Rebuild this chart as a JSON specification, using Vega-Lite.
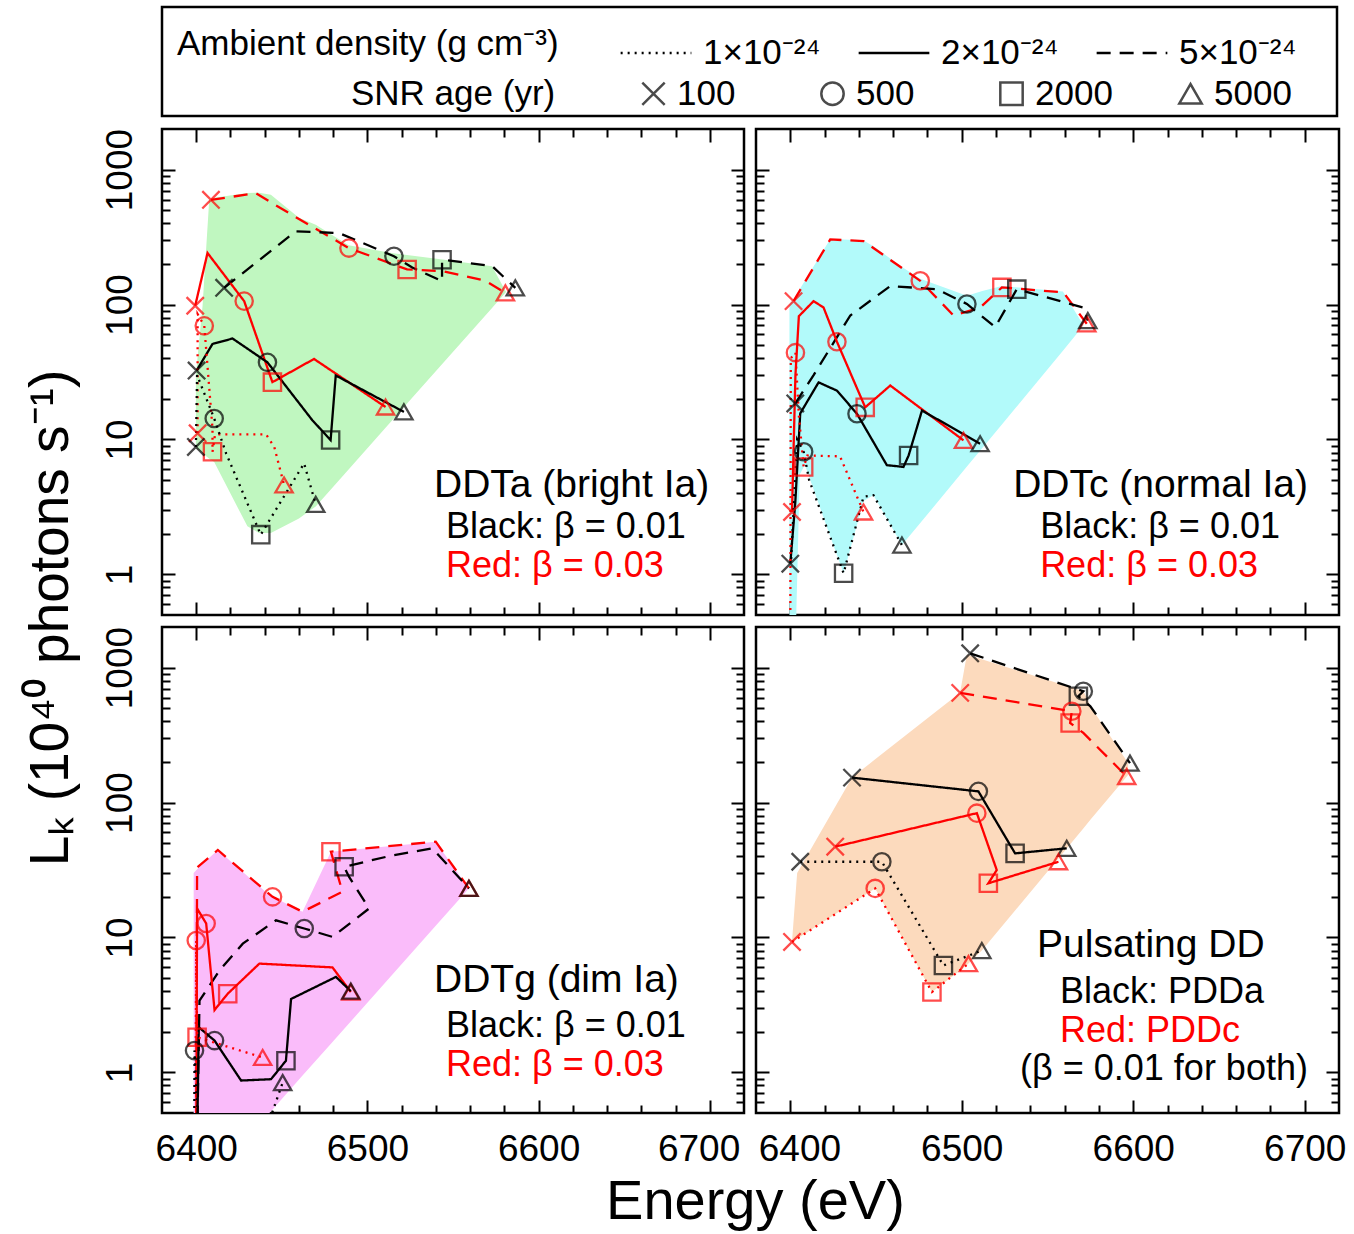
{
"$schema": "https://vega.github.io/schema/vega-lite/v6.json",
"background": "white",
"padding": {"left": 23, "top": 5, "right": 6, "bottom": 4},
"title": {"text": "Lₖ (10⁴⁰ photons s⁻¹)", "orient": "left", "anchor": "middle", "fontSize": 55, "fontWeight": "normal", "font": "Liberation Sans", "color": "#000", "offset": 20, "dx": 0, "frame": "bounds"},
"config": {
  "view": {"stroke": "#000", "strokeWidth": 2.5},
  "font": "Liberation Sans",
  "axis": {"domain": false, "grid": false, "tickColor": "#000", "tickWidth": 2, "labelColor": "#000", "labelFont": "Liberation Sans", "labelFontSize": 37, "labelFlush": false},
  "legend": {"orient": "none", "direction": "horizontal", "titleOrient": "left", "titleFontSize": 35, "titleFontWeight": "normal", "titleFont": "Liberation Sans", "titleColor": "#000", "labelFontSize": 35, "labelFont": "Liberation Sans", "labelColor": "#000", "symbolStrokeColor": "#000", "symbolStrokeWidth": 2.5, "gridAlign": "all", "labelOffset": 10, "padding": 0, "titleLimit": 1000, "labelLimit": 400}
},
"datasets": {
"lines": [
{"p":"DDTa","m":"β = 0.03","d":"5×10⁻²⁴","i":1,"E":6408.6,"L":597,"a":"100"},
{"p":"DDTa","m":"β = 0.03","d":"5×10⁻²⁴","i":2,"E":6434.8,"L":668},
{"p":"DDTa","m":"β = 0.03","d":"5×10⁻²⁴","i":3,"E":6460,"L":430},
{"p":"DDTa","m":"β = 0.03","d":"5×10⁻²⁴","i":4,"E":6489.2,"L":262,"a":"500"},
{"p":"DDTa","m":"β = 0.03","d":"5×10⁻²⁴","i":5,"E":6523.2,"L":182,"a":"2000"},
{"p":"DDTa","m":"β = 0.03","d":"5×10⁻²⁴","i":6,"E":6543.7,"L":177},
{"p":"DDTa","m":"β = 0.03","d":"5×10⁻²⁴","i":7,"E":6569,"L":150},
{"p":"DDTa","m":"β = 0.03","d":"5×10⁻²⁴","i":8,"E":6580.6,"L":122,"a":"5000"},
{"p":"DDTa","m":"β = 0.01","d":"5×10⁻²⁴","i":1,"E":6416.3,"L":133,"a":"100"},
{"p":"DDTa","m":"β = 0.01","d":"5×10⁻²⁴","i":2,"E":6458.1,"L":349},
{"p":"DDTa","m":"β = 0.01","d":"5×10⁻²⁴","i":3,"E":6483.4,"L":339},
{"p":"DDTa","m":"β = 0.01","d":"5×10⁻²⁴","i":4,"E":6515.5,"L":228,"a":"500"},
{"p":"DDTa","m":"β = 0.01","d":"5×10⁻²⁴","i":5,"E":6526.2,"L":188},
{"p":"DDTa","m":"β = 0.01","d":"5×10⁻²⁴","i":6,"E":6543.6,"L":149},
{"p":"DDTa","m":"β = 0.01","d":"5×10⁻²⁴","i":7,"E":6543.6,"L":215,"a":"2000"},
{"p":"DDTa","m":"β = 0.01","d":"5×10⁻²⁴","i":8,"E":6572.8,"L":193},
{"p":"DDTa","m":"β = 0.01","d":"5×10⁻²⁴","i":9,"E":6586.4,"L":133,"a":"5000"},
{"p":"DDTa","m":"β = 0.03","d":"2×10⁻²⁴","i":1,"E":6399.4,"L":98,"a":"100"},
{"p":"DDTa","m":"β = 0.03","d":"2×10⁻²⁴","i":2,"E":6406.6,"L":241},
{"p":"DDTa","m":"β = 0.03","d":"2×10⁻²⁴","i":3,"E":6428,"L":106,"a":"500"},
{"p":"DDTa","m":"β = 0.03","d":"2×10⁻²⁴","i":4,"E":6444.5,"L":26.6,"a":"2000"},
{"p":"DDTa","m":"β = 0.03","d":"2×10⁻²⁴","i":5,"E":6468.8,"L":39.5},
{"p":"DDTa","m":"β = 0.03","d":"2×10⁻²⁴","i":6,"E":6510.6,"L":17.4,"a":"5000"},
{"p":"DDTa","m":"β = 0.01","d":"2×10⁻²⁴","i":1,"E":6400.2,"L":32.4,"a":"100"},
{"p":"DDTa","m":"β = 0.01","d":"2×10⁻²⁴","i":2,"E":6409.5,"L":51},
{"p":"DDTa","m":"β = 0.01","d":"2×10⁻²⁴","i":3,"E":6421.2,"L":56},
{"p":"DDTa","m":"β = 0.01","d":"2×10⁻²⁴","i":4,"E":6441.6,"L":37.3,"a":"500"},
{"p":"DDTa","m":"β = 0.01","d":"2×10⁻²⁴","i":5,"E":6467.8,"L":13.9},
{"p":"DDTa","m":"β = 0.01","d":"2×10⁻²⁴","i":6,"E":6478.5,"L":9.9,"a":"2000"},
{"p":"DDTa","m":"β = 0.01","d":"2×10⁻²⁴","i":7,"E":6481.5,"L":29.8},
{"p":"DDTa","m":"β = 0.01","d":"2×10⁻²⁴","i":8,"E":6521.3,"L":16.0,"a":"5000"},
{"p":"DDTa","m":"β = 0.03","d":"1×10⁻²⁴","i":1,"E":6400.8,"L":11.1,"a":"100"},
{"p":"DDTa","m":"β = 0.03","d":"1×10⁻²⁴","i":2,"E":6400.8,"L":85},
{"p":"DDTa","m":"β = 0.03","d":"1×10⁻²⁴","i":3,"E":6404.7,"L":69.5,"a":"500"},
{"p":"DDTa","m":"β = 0.03","d":"1×10⁻²⁴","i":4,"E":6409.5,"L":12},
{"p":"DDTa","m":"β = 0.03","d":"1×10⁻²⁴","i":5,"E":6409.5,"L":8.1,"a":"2000"},
{"p":"DDTa","m":"β = 0.03","d":"1×10⁻²⁴","i":6,"E":6411,"L":10.9},
{"p":"DDTa","m":"β = 0.03","d":"1×10⁻²⁴","i":7,"E":6440.8,"L":10.9},
{"p":"DDTa","m":"β = 0.03","d":"1×10⁻²⁴","i":8,"E":6445.6,"L":8.8},
{"p":"DDTa","m":"β = 0.03","d":"1×10⁻²⁴","i":9,"E":6451.3,"L":4.6,"a":"5000"},
{"p":"DDTa","m":"β = 0.01","d":"1×10⁻²⁴","i":1,"E":6399.8,"L":8.8,"a":"100"},
{"p":"DDTa","m":"β = 0.01","d":"1×10⁻²⁴","i":2,"E":6400.5,"L":30},
{"p":"DDTa","m":"β = 0.01","d":"1×10⁻²⁴","i":3,"E":6410.5,"L":14.3,"a":"500"},
{"p":"DDTa","m":"β = 0.01","d":"1×10⁻²⁴","i":4,"E":6417.5,"L":7.85},
{"p":"DDTa","m":"β = 0.01","d":"1×10⁻²⁴","i":5,"E":6437.7,"L":1.97,"a":"2000"},
{"p":"DDTa","m":"β = 0.01","d":"1×10⁻²⁴","i":6,"E":6463,"L":6.65},
{"p":"DDTa","m":"β = 0.01","d":"1×10⁻²⁴","i":7,"E":6469.8,"L":3.3,"a":"5000"},

{"p":"DDTc","m":"β = 0.03","d":"5×10⁻²⁴","i":1,"E":6401.9,"L":106,"a":"100"},
{"p":"DDTc","m":"β = 0.03","d":"5×10⁻²⁴","i":2,"E":6423.3,"L":304},
{"p":"DDTc","m":"β = 0.03","d":"5×10⁻²⁴","i":3,"E":6442.7,"L":295},
{"p":"DDTc","m":"β = 0.03","d":"5×10⁻²⁴","i":4,"E":6475.8,"L":150,"a":"500"},
{"p":"DDTc","m":"β = 0.03","d":"5×10⁻²⁴","i":5,"E":6495.2,"L":83},
{"p":"DDTc","m":"β = 0.03","d":"5×10⁻²⁴","i":6,"E":6510.7,"L":95},
{"p":"DDTc","m":"β = 0.03","d":"5×10⁻²⁴","i":7,"E":6523.4,"L":134,"a":"2000"},
{"p":"DDTc","m":"β = 0.03","d":"5×10⁻²⁴","i":8,"E":6559.3,"L":123},
{"p":"DDTc","m":"β = 0.03","d":"5×10⁻²⁴","i":9,"E":6572.9,"L":72,"a":"5000"},
{"p":"DDTc","m":"β = 0.01","d":"5×10⁻²⁴","i":1,"E":6402.9,"L":18.5,"a":"100"},
{"p":"DDTc","m":"β = 0.01","d":"5×10⁻²⁴","i":2,"E":6413.6,"L":30},
{"p":"DDTc","m":"β = 0.01","d":"5×10⁻²⁴","i":3,"E":6435,"L":83},
{"p":"DDTc","m":"β = 0.01","d":"5×10⁻²⁴","i":4,"E":6458.3,"L":137},
{"p":"DDTc","m":"β = 0.01","d":"5×10⁻²⁴","i":5,"E":6485.5,"L":130},
{"p":"DDTc","m":"β = 0.01","d":"5×10⁻²⁴","i":6,"E":6503,"L":101,"a":"500"},
{"p":"DDTc","m":"β = 0.01","d":"5×10⁻²⁴","i":7,"E":6519.5,"L":68},
{"p":"DDTc","m":"β = 0.01","d":"5×10⁻²⁴","i":8,"E":6532.1,"L":130,"a":"2000"},
{"p":"DDTc","m":"β = 0.01","d":"5×10⁻²⁴","i":9,"E":6570.9,"L":95},
{"p":"DDTc","m":"β = 0.01","d":"5×10⁻²⁴","i":10,"E":6573.5,"L":76,"a":"5000"},
{"p":"DDTc","m":"β = 0.03","d":"2×10⁻²⁴","i":1,"E":6401,"L":2.9,"a":"100"},
{"p":"DDTc","m":"β = 0.03","d":"2×10⁻²⁴","i":2,"E":6403,"L":30},
{"p":"DDTc","m":"β = 0.03","d":"2×10⁻²⁴","i":3,"E":6405,"L":82},
{"p":"DDTc","m":"β = 0.03","d":"2×10⁻²⁴","i":4,"E":6413.6,"L":106},
{"p":"DDTc","m":"β = 0.03","d":"2×10⁻²⁴","i":5,"E":6419.4,"L":95},
{"p":"DDTc","m":"β = 0.03","d":"2×10⁻²⁴","i":6,"E":6427.2,"L":53,"a":"500"},
{"p":"DDTc","m":"β = 0.03","d":"2×10⁻²⁴","i":7,"E":6443.7,"L":17.3,"a":"2000"},
{"p":"DDTc","m":"β = 0.03","d":"2×10⁻²⁴","i":8,"E":6458.3,"L":25.1},
{"p":"DDTc","m":"β = 0.03","d":"2×10⁻²⁴","i":9,"E":6501,"L":9.85,"a":"5000"},
{"p":"DDTc","m":"β = 0.01","d":"2×10⁻²⁴","i":1,"E":6400,"L":1.2,"a":"100"},
{"p":"DDTc","m":"β = 0.01","d":"2×10⁻²⁴","i":2,"E":6402.9,"L":3.4},
{"p":"DDTc","m":"β = 0.01","d":"2×10⁻²⁴","i":3,"E":6405.8,"L":15.6},
{"p":"DDTc","m":"β = 0.01","d":"2×10⁻²⁴","i":4,"E":6416.5,"L":26.5},
{"p":"DDTc","m":"β = 0.01","d":"2×10⁻²⁴","i":5,"E":6427.2,"L":23},
{"p":"DDTc","m":"β = 0.01","d":"2×10⁻²⁴","i":6,"E":6438.9,"L":15.5,"a":"500"},
{"p":"DDTc","m":"β = 0.01","d":"2×10⁻²⁴","i":7,"E":6456.3,"L":6.45},
{"p":"DDTc","m":"β = 0.01","d":"2×10⁻²⁴","i":8,"E":6466,"L":6.26},
{"p":"DDTc","m":"β = 0.01","d":"2×10⁻²⁴","i":9,"E":6469,"L":7.6,"a":"2000"},
{"p":"DDTc","m":"β = 0.01","d":"2×10⁻²⁴","i":10,"E":6476.8,"L":16.4},
{"p":"DDTc","m":"β = 0.01","d":"2×10⁻²⁴","i":11,"E":6510.7,"L":9.3,"a":"5000"},
{"p":"DDTc","m":"β = 0.03","d":"1×10⁻²⁴","i":1,"E":6400,"L":0.3},
{"p":"DDTc","m":"β = 0.03","d":"1×10⁻²⁴","i":2,"E":6400.3,"L":40},
{"p":"DDTc","m":"β = 0.03","d":"1×10⁻²⁴","i":3,"E":6403,"L":44,"a":"500"},
{"p":"DDTc","m":"β = 0.03","d":"1×10⁻²⁴","i":4,"E":6405,"L":15},
{"p":"DDTc","m":"β = 0.03","d":"1×10⁻²⁴","i":5,"E":6407.8,"L":6.25,"a":"2000"},
{"p":"DDTc","m":"β = 0.03","d":"1×10⁻²⁴","i":6,"E":6410,"L":7.6},
{"p":"DDTc","m":"β = 0.03","d":"1×10⁻²⁴","i":7,"E":6429,"L":7.5},
{"p":"DDTc","m":"β = 0.03","d":"1×10⁻²⁴","i":8,"E":6442.7,"L":2.9,"a":"5000"},
{"p":"DDTc","m":"β = 0.01","d":"1×10⁻²⁴","i":1,"E":6400.5,"L":1.3},
{"p":"DDTc","m":"β = 0.01","d":"1×10⁻²⁴","i":2,"E":6404,"L":10},
{"p":"DDTc","m":"β = 0.01","d":"1×10⁻²⁴","i":3,"E":6407.8,"L":8.1,"a":"500"},
{"p":"DDTc","m":"β = 0.01","d":"1×10⁻²⁴","i":4,"E":6411,"L":5},
{"p":"DDTc","m":"β = 0.01","d":"1×10⁻²⁴","i":5,"E":6431.1,"L":1.02,"a":"2000"},
{"p":"DDTc","m":"β = 0.01","d":"1×10⁻²⁴","i":6,"E":6442.7,"L":3.76},
{"p":"DDTc","m":"β = 0.01","d":"1×10⁻²⁴","i":7,"E":6448.5,"L":3.86},
{"p":"DDTc","m":"β = 0.01","d":"1×10⁻²⁴","i":8,"E":6465.1,"L":1.65,"a":"5000"},

{"p":"DDTg","m":"β = 0.03","d":"5×10⁻²⁴","i":1,"E":6400,"L":0.3},
{"p":"DDTg","m":"β = 0.03","d":"5×10⁻²⁴","i":2,"E":6400.5,"L":33},
{"p":"DDTg","m":"β = 0.03","d":"5×10⁻²⁴","i":3,"E":6412.6,"L":44.5},
{"p":"DDTg","m":"β = 0.03","d":"5×10⁻²⁴","i":4,"E":6444.6,"L":20,"a":"500"},
{"p":"DDTg","m":"β = 0.03","d":"5×10⁻²⁴","i":5,"E":6462.1,"L":15.5},
{"p":"DDTg","m":"β = 0.03","d":"5×10⁻²⁴","i":6,"E":6485.4,"L":21.8},
{"p":"DDTg","m":"β = 0.03","d":"5×10⁻²⁴","i":7,"E":6478.7,"L":43.2,"a":"2000"},
{"p":"DDTg","m":"β = 0.03","d":"5×10⁻²⁴","i":8,"E":6539.9,"L":51.3},
{"p":"DDTg","m":"β = 0.03","d":"5×10⁻²⁴","i":9,"E":6559.3,"L":23.1,"a":"5000"},
{"p":"DDTg","m":"β = 0.01","d":"5×10⁻²⁴","i":1,"E":6400.5,"L":0.3},
{"p":"DDTg","m":"β = 0.01","d":"5×10⁻²⁴","i":2,"E":6401.9,"L":3.4},
{"p":"DDTg","m":"β = 0.01","d":"5×10⁻²⁴","i":3,"E":6413.6,"L":5.7},
{"p":"DDTg","m":"β = 0.01","d":"5×10⁻²⁴","i":4,"E":6427.2,"L":9},
{"p":"DDTg","m":"β = 0.01","d":"5×10⁻²⁴","i":5,"E":6446.6,"L":13.4},
{"p":"DDTg","m":"β = 0.01","d":"5×10⁻²⁴","i":6,"E":6463.1,"L":11.65,"a":"500"},
{"p":"DDTg","m":"β = 0.01","d":"5×10⁻²⁴","i":7,"E":6479.6,"L":10.1},
{"p":"DDTg","m":"β = 0.01","d":"5×10⁻²⁴","i":8,"E":6501,"L":16.4},
{"p":"DDTg","m":"β = 0.01","d":"5×10⁻²⁴","i":9,"E":6489.3,"L":28.1},
{"p":"DDTg","m":"β = 0.01","d":"5×10⁻²⁴","i":10,"E":6486.4,"L":33.4,"a":"2000"},
{"p":"DDTg","m":"β = 0.01","d":"5×10⁻²⁴","i":11,"E":6514.6,"L":40.6},
{"p":"DDTg","m":"β = 0.01","d":"5×10⁻²⁴","i":12,"E":6537.9,"L":45.8},
{"p":"DDTg","m":"β = 0.01","d":"5×10⁻²⁴","i":13,"E":6559.3,"L":23.1,"a":"5000"},
{"p":"DDTg","m":"β = 0.03","d":"2×10⁻²⁴","i":1,"E":6400,"L":0.3},
{"p":"DDTg","m":"β = 0.03","d":"2×10⁻²⁴","i":2,"E":6400.5,"L":16.4},
{"p":"DDTg","m":"β = 0.03","d":"2×10⁻²⁴","i":3,"E":6405.8,"L":12.7,"a":"500"},
{"p":"DDTg","m":"β = 0.03","d":"2×10⁻²⁴","i":4,"E":6410.7,"L":2.9},
{"p":"DDTg","m":"β = 0.03","d":"2×10⁻²⁴","i":5,"E":6418.4,"L":3.83,"a":"2000"},
{"p":"DDTg","m":"β = 0.03","d":"2×10⁻²⁴","i":6,"E":6436.9,"L":6.4},
{"p":"DDTg","m":"β = 0.03","d":"2×10⁻²⁴","i":7,"E":6479.6,"L":6.0},
{"p":"DDTg","m":"β = 0.03","d":"2×10⁻²⁴","i":8,"E":6490.3,"L":3.94,"a":"5000"},
{"p":"DDTg","m":"β = 0.01","d":"2×10⁻²⁴","i":1,"E":6400.5,"L":0.3},
{"p":"DDTg","m":"β = 0.01","d":"2×10⁻²⁴","i":2,"E":6401.5,"L":2.16},
{"p":"DDTg","m":"β = 0.01","d":"2×10⁻²⁴","i":3,"E":6410.7,"L":1.72,"a":"500"},
{"p":"DDTg","m":"β = 0.01","d":"2×10⁻²⁴","i":4,"E":6426.2,"L":0.87},
{"p":"DDTg","m":"β = 0.01","d":"2×10⁻²⁴","i":5,"E":6443.7,"L":0.89},
{"p":"DDTg","m":"β = 0.01","d":"2×10⁻²⁴","i":6,"E":6452.4,"L":1.22,"a":"2000"},
{"p":"DDTg","m":"β = 0.01","d":"2×10⁻²⁴","i":7,"E":6455.4,"L":3.5},
{"p":"DDTg","m":"β = 0.01","d":"2×10⁻²⁴","i":8,"E":6481.6,"L":5.1},
{"p":"DDTg","m":"β = 0.01","d":"2×10⁻²⁴","i":9,"E":6490.3,"L":4.0,"a":"5000"},
{"p":"DDTg","m":"β = 0.03","d":"1×10⁻²⁴","i":1,"E":6399.5,"L":0.3},
{"p":"DDTg","m":"β = 0.03","d":"1×10⁻²⁴","i":2,"E":6400,"L":9.5,"a":"500"},
{"p":"DDTg","m":"β = 0.03","d":"1×10⁻²⁴","i":3,"E":6400.5,"L":1.82,"a":"2000"},
{"p":"DDTg","m":"β = 0.03","d":"1×10⁻²⁴","i":4,"E":6438.8,"L":1.29,"a":"5000"},
{"p":"DDTg","m":"β = 0.01","d":"1×10⁻²⁴","i":1,"E":6398.8,"L":0.3},
{"p":"DDTg","m":"β = 0.01","d":"1×10⁻²⁴","i":2,"E":6399,"L":1.45,"a":"500"},
{"p":"DDTg","m":"β = 0.01","d":"1×10⁻²⁴","i":3,"E":6401,"L":0.45},
{"p":"DDTg","m":"β = 0.01","d":"1×10⁻²⁴","i":4,"E":6440,"L":0.35},
{"p":"DDTg","m":"β = 0.01","d":"1×10⁻²⁴","i":5,"E":6450.5,"L":0.84,"a":"5000"},

{"p":"PDD","m":"PDDa","d":"5×10⁻²⁴","i":1,"E":6504.9,"L":1276,"a":"100"},
{"p":"PDD","m":"PDDa","d":"5×10⁻²⁴","i":2,"E":6570.9,"L":668,"a":"500"},
{"p":"PDD","m":"PDDa","d":"5×10⁻²⁴","i":3,"E":6568,"L":614,"a":"2000"},
{"p":"PDD","m":"PDDa","d":"5×10⁻²⁴","i":4,"E":6575,"L":517},
{"p":"PDD","m":"PDDa","d":"5×10⁻²⁴","i":5,"E":6598.1,"L":196,"a":"5000"},
{"p":"PDD","m":"PDDc","d":"5×10⁻²⁴","i":1,"E":6499.1,"L":650,"a":"100"},
{"p":"PDD","m":"PDDc","d":"5×10⁻²⁴","i":2,"E":6564.2,"L":475,"a":"500"},
{"p":"PDD","m":"PDDc","d":"5×10⁻²⁴","i":3,"E":6563.2,"L":389,"a":"2000"},
{"p":"PDD","m":"PDDc","d":"5×10⁻²⁴","i":4,"E":6570.9,"L":328},
{"p":"PDD","m":"PDDc","d":"5×10⁻²⁴","i":5,"E":6596.2,"L":156,"a":"5000"},
{"p":"PDD","m":"PDDa","d":"2×10⁻²⁴","i":1,"E":6436,"L":153,"a":"100"},
{"p":"PDD","m":"PDDa","d":"2×10⁻²⁴","i":2,"E":6509.7,"L":121,"a":"500"},
{"p":"PDD","m":"PDDa","d":"2×10⁻²⁴","i":3,"E":6531.1,"L":42,"a":"2000"},
{"p":"PDD","m":"PDDa","d":"2×10⁻²⁴","i":4,"E":6561.2,"L":45.8,"a":"5000"},
{"p":"PDD","m":"PDDc","d":"2×10⁻²⁴","i":1,"E":6426.2,"L":47.1,"a":"100"},
{"p":"PDD","m":"PDDc","d":"2×10⁻²⁴","i":2,"E":6508.8,"L":83.4,"a":"500"},
{"p":"PDD","m":"PDDc","d":"2×10⁻²⁴","i":3,"E":6520.4,"L":31.6},
{"p":"PDD","m":"PDDc","d":"2×10⁻²⁴","i":4,"E":6515.5,"L":25.2,"a":"2000"},
{"p":"PDD","m":"PDDc","d":"2×10⁻²⁴","i":5,"E":6556.4,"L":36.4,"a":"5000"},
{"p":"PDD","m":"PDDa","d":"1×10⁻²⁴","i":1,"E":6405.8,"L":36.4,"a":"100"},
{"p":"PDD","m":"PDDa","d":"1×10⁻²⁴","i":2,"E":6453.4,"L":36.4,"a":"500"},
{"p":"PDD","m":"PDDa","d":"1×10⁻²⁴","i":3,"E":6489.3,"L":6.2,"a":"2000"},
{"p":"PDD","m":"PDDa","d":"1×10⁻²⁴","i":4,"E":6511.7,"L":8.0,"a":"5000"},
{"p":"PDD","m":"PDDc","d":"1×10⁻²⁴","i":1,"E":6401,"L":9.26,"a":"100"},
{"p":"PDD","m":"PDDc","d":"1×10⁻²⁴","i":2,"E":6449.5,"L":23.1,"a":"500"},
{"p":"PDD","m":"PDDc","d":"1×10⁻²⁴","i":3,"E":6482.6,"L":3.94,"a":"2000"},
{"p":"PDD","m":"PDDc","d":"1×10⁻²⁴","i":4,"E":6503.9,"L":6.4,"a":"5000"}
],
"regions": [
{"p":"DDTa","E":6399.8,"hi":30,"lo":8.6},
{"p":"DDTa","E":6403.7,"hi":98,"lo":7.9},
{"p":"DDTa","E":6407.6,"hi":600,"lo":7.2},
{"p":"DDTa","E":6410.5,"hi":620,"lo":6.8},
{"p":"DDTa","E":6429.9,"hi":670,"lo":2.27},
{"p":"DDTa","E":6436.7,"hi":675,"lo":2.03},
{"p":"DDTa","E":6443.6,"hi":650,"lo":2.03},
{"p":"DDTa","E":6460,"hi":440,"lo":2.6},
{"p":"DDTa","E":6469.8,"hi":390,"lo":3.19},
{"p":"DDTa","E":6489,"hi":275,"lo":6.0},
{"p":"DDTa","E":6515,"hi":240,"lo":14.1},
{"p":"DDTa","E":6545,"hi":215,"lo":37.9},
{"p":"DDTa","E":6572.8,"hi":192,"lo":94.4},
{"p":"DDTa","E":6581,"hi":124,"lo":124},
{"p":"DDTc","E":6399.5,"hi":100,"lo":0.5},
{"p":"DDTc","E":6401.9,"hi":110,"lo":0.5},
{"p":"DDTc","E":6403.5,"hi":118,"lo":0.5},
{"p":"DDTc","E":6405.5,"hi":130,"lo":5.5},
{"p":"DDTc","E":6408.5,"hi":150,"lo":6.5},
{"p":"DDTc","E":6423.3,"hi":306,"lo":1.91},
{"p":"DDTc","E":6431.1,"hi":303,"lo":1.02},
{"p":"DDTc","E":6442.7,"hi":298,"lo":3.5},
{"p":"DDTc","E":6448.5,"hi":270,"lo":3.86},
{"p":"DDTc","E":6465.1,"hi":190,"lo":1.65},
{"p":"DDTc","E":6475.8,"hi":155,"lo":2.4},
{"p":"DDTc","E":6503,"hi":116,"lo":6.3},
{"p":"DDTc","E":6512,"hi":126,"lo":8.65},
{"p":"DDTc","E":6523.4,"hi":137,"lo":12.9},
{"p":"DDTc","E":6559,"hi":125,"lo":45.5},
{"p":"DDTc","E":6571,"hi":70,"lo":70},
{"p":"DDTg","E":6398.5,"hi":30,"lo":0.5},
{"p":"DDTg","E":6401.9,"hi":33.4,"lo":0.5},
{"p":"DDTg","E":6412.6,"hi":44.5,"lo":0.5},
{"p":"DDTg","E":6442.7,"hi":20.6,"lo":0.5},
{"p":"DDTg","E":6444.6,"hi":20,"lo":0.53},
{"p":"DDTg","E":6462.1,"hi":15.5,"lo":0.95},
{"p":"DDTg","E":6478.7,"hi":43.2,"lo":1.63},
{"p":"DDTg","E":6539.9,"hi":51.3,"lo":12.2},
{"p":"DDTg","E":6559.3,"hi":23.1,"lo":23.1},
{"p":"PDD","E":6401,"hi":9.3,"lo":9.3},
{"p":"PDD","E":6404,"hi":30,"lo":9.8},
{"p":"PDD","E":6436,"hi":153,"lo":17.9},
{"p":"PDD","E":6449.5,"hi":209,"lo":23.1},
{"p":"PDD","E":6482.6,"hi":447,"lo":3.94},
{"p":"PDD","E":6499,"hi":650,"lo":5.7},
{"p":"PDD","E":6503,"hi":1250,"lo":6.25},
{"p":"PDD","E":6503.9,"hi":1240,"lo":6.4},
{"p":"PDD","E":6511.7,"hi":1153,"lo":8.0},
{"p":"PDD","E":6571,"hi":668,"lo":64.6},
{"p":"PDD","E":6575,"hi":517,"lo":74.5},
{"p":"PDD","E":6597,"hi":196,"lo":160}
],
"notes": [
{"p":"DDTa","k":"head","E":6538.9,"L":4.58,"t":"DDTa (bright Ia)","m":"β = 0.01"},
{"p":"DDTa","k":"body","E":6545.9,"L":2.24,"t":"Black: β = 0.01","m":"β = 0.01"},
{"p":"DDTa","k":"body","E":6545.9,"L":1.155,"t":"Red: β = 0.03","m":"β = 0.03"},
{"p":"DDTc","k":"head","E":6530,"L":4.58,"t":"DDTc (normal Ia)","m":"β = 0.01"},
{"p":"DDTc","k":"body","E":6545.7,"L":2.24,"t":"Black: β = 0.01","m":"β = 0.01"},
{"p":"DDTc","k":"body","E":6545.7,"L":1.155,"t":"Red: β = 0.03","m":"β = 0.03"},
{"p":"DDTg","k":"head","E":6538.9,"L":4.81,"t":"DDTg (dim Ia)","m":"β = 0.01"},
{"p":"DDTg","k":"body","E":6545.9,"L":2.22,"t":"Black: β = 0.01","m":"β = 0.01"},
{"p":"DDTg","k":"body","E":6545.9,"L":1.14,"t":"Red: β = 0.03","m":"β = 0.03"},
{"p":"PDD","k":"head","E":6543.9,"L":8.75,"t":"Pulsating DD","m":"PDDa"},
{"p":"PDD","k":"body","E":6557.3,"L":3.91,"t":"Black: PDDa","m":"PDDa"},
{"p":"PDD","k":"body","E":6557.3,"L":2.04,"t":"Red: PDDc","m":"PDDc"},
{"p":"PDD","k":"body","E":6534,"L":1.065,"t":"(β = 0.01 for both)","m":"PDDa"}
]
},
"spacing": 8,
"vconcat": [
{
 "width": 1175, "height": 109,
 "view": {"stroke": "#000", "strokeWidth": 2.5},
 "data": {"values": [{"t": ""}]},
 "mark": {"type": "text"},
 "encoding": {"text": {"field": "t"}}
},
{
"spacing": 6,
"vconcat": [
{
 "hconcat": [
 {
  "width": 582, "height": 486,
  "layer": [
   {"data": {"name": "regions"}, "transform": [{"filter": "datum.p === 'DDTa'"}],
    "mark": {"type": "area", "color": "#c0f7c0", "opacity": 1, "clip": true},
    "encoding": {
     "x": {"field": "E", "type": "quantitative", "scale": {"domain": [6380, 6720], "nice": false, "zero": false}, "axis": {"orient": "bottom", "values": [6400, 6500, 6600, 6700], "tickSize": -13, "labels": false, "title": null}},
     "y": {"field": "hi", "type": "quantitative", "scale": {"type": "log", "domain": [0.5, 2000], "nice": false}, "axis": {"orient": "left", "values": [1, 10, 100, 1000], "format": "d", "tickSize": -13, "labelAngle": -90, "labelAlign": "center", "labelBaseline": "bottom", "labelPadding": 36, "title": null}},
     "y2": {"field": "lo"}}},
   {"data": {"name": "lines"}, "transform": [{"filter": "datum.p === 'DDTa'"}],
    "mark": {"type": "line", "strokeWidth": 2.3, "clip": true},
    "encoding": {
     "x": {"field": "E", "type": "quantitative", "axis": {"orient": "bottom", "values": [6420,6440,6460,6480,6520,6540,6560,6580,6620,6640,6660,6680], "tickSize": -8, "labels": false, "title": null}},
     "y": {"field": "L", "type": "quantitative", "axis": {"orient": "left", "values": [0.6,0.7,0.8,0.9,2,3,4,5,6,7,8,9,20,30,40,50,60,70,80,90,200,300,400,500,600,700,800,900], "tickSize": -8, "labels": false, "title": null}},
     "color": {"field": "m", "type": "nominal", "scale": {"domain": ["β = 0.01", "PDDa", "β = 0.03", "PDDc"], "range": ["#000000", "#000000", "#ff0000", "#ff0000"]}, "legend": null},
     "strokeDash": {"field": "d", "type": "nominal", "scale": {"domain": ["1×10⁻²⁴", "2×10⁻²⁴", "5×10⁻²⁴"], "range": [[2, 5], [1, 0], [14, 9]]}, "legend": {"title": "Ambient density (g cm⁻³)", "legendX": 15, "legendY": 9, "symbolType": "stroke", "symbolSize": 5000, "columnPadding": 32, "titlePadding": 60}},
     "order": {"field": "i", "type": "quantitative"}}},
   {"data": {"name": "lines"}, "transform": [{"filter": "datum.p === 'DDTa' && isValid(datum.a)"}],
    "mark": {"type": "point", "filled": false, "size": 300, "strokeWidth": 2.3, "clip": true},
    "encoding": {
     "x": {"field": "E", "type": "quantitative", "axis": {"orient": "top", "values": [6400, 6500, 6600, 6700], "tickSize": -13, "labels": false, "title": null}},
     "y": {"field": "L", "type": "quantitative", "axis": {"orient": "right", "values": [1, 10, 100, 1000], "tickSize": -13, "labels": false, "title": null}},
     "color": {"field": "m", "type": "nominal", "legend": null},
     "shape": {"field": "a", "type": "nominal", "scale": {"domain": ["100", "500", "2000", "5000"], "range": ["M-1,-1L1,1M1,-1L-1,1", "circle", "square", "triangle-up"]}, "legend": {"title": "SNR age (yr)", "legendX": 189, "legendY": 69, "symbolSize": 500, "labelOffset": 6, "columnPadding": 60, "titlePadding": 80, "symbolFillColor": "transparent"}}}},
   {"data": {"name": "notes"}, "transform": [{"filter": "datum.p === 'DDTa'"}],
    "mark": {"type": "text", "align": "left", "baseline": "middle", "font": "Liberation Sans"},
    "encoding": {
     "x": {"field": "E", "type": "quantitative", "axis": {"orient": "top", "values": [6420,6440,6460,6480,6520,6540,6560,6580,6620,6640,6660,6680], "tickSize": -8, "labels": false, "title": null}},
     "y": {"field": "L", "type": "quantitative", "axis": {"orient": "right", "values": [0.6,0.7,0.8,0.9,2,3,4,5,6,7,8,9,20,30,40,50,60,70,80,90,200,300,400,500,600,700,800,900], "tickSize": -8, "labels": false, "title": null}},
     "text": {"field": "t"},
     "size": {"field": "k", "type": "ordinal", "scale": {"domain": ["head", "body"], "range": [39, 36]}, "legend": null},
     "color": {"field": "m", "type": "nominal", "legend": null}}}
  ],
  "resolve": {"axis": {"x": "independent", "y": "independent"}}
 },
 {
  "width": 583, "height": 486,
  "layer": [
   {"data": {"name": "regions"}, "transform": [{"filter": "datum.p === 'DDTc'"}],
    "mark": {"type": "area", "color": "#b2fafa", "opacity": 1, "clip": true},
    "encoding": {
     "x": {"field": "E", "type": "quantitative", "scale": {"domain": [6380, 6720], "nice": false, "zero": false}, "axis": {"orient": "bottom", "values": [6400, 6500, 6600, 6700], "tickSize": -13, "labels": false, "title": null}},
     "y": {"field": "hi", "type": "quantitative", "scale": {"type": "log", "domain": [0.5, 2000], "nice": false}, "axis": {"orient": "left", "values": [1, 10, 100, 1000], "tickSize": -13, "labels": false, "title": null}},
     "y2": {"field": "lo"}}},
   {"data": {"name": "lines"}, "transform": [{"filter": "datum.p === 'DDTc'"}],
    "mark": {"type": "line", "strokeWidth": 2.3, "clip": true},
    "encoding": {
     "x": {"field": "E", "type": "quantitative", "axis": {"orient": "bottom", "values": [6420,6440,6460,6480,6520,6540,6560,6580,6620,6640,6660,6680], "tickSize": -8, "labels": false, "title": null}},
     "y": {"field": "L", "type": "quantitative", "axis": {"orient": "left", "values": [0.6,0.7,0.8,0.9,2,3,4,5,6,7,8,9,20,30,40,50,60,70,80,90,200,300,400,500,600,700,800,900], "tickSize": -8, "labels": false, "title": null}},
     "color": {"field": "m", "type": "nominal", "legend": null},
     "strokeDash": {"field": "d", "type": "nominal", "legend": {"title": "Ambient density (g cm⁻³)", "legendX": 15, "legendY": 9, "symbolType": "stroke", "symbolSize": 5000, "columnPadding": 32, "titlePadding": 60}},
     "order": {"field": "i", "type": "quantitative"}}},
   {"data": {"name": "lines"}, "transform": [{"filter": "datum.p === 'DDTc' && isValid(datum.a)"}],
    "mark": {"type": "point", "filled": false, "size": 300, "strokeWidth": 2.3, "clip": true},
    "encoding": {
     "x": {"field": "E", "type": "quantitative", "axis": {"orient": "top", "values": [6400, 6500, 6600, 6700], "tickSize": -13, "labels": false, "title": null}},
     "y": {"field": "L", "type": "quantitative", "axis": {"orient": "right", "values": [1, 10, 100, 1000], "tickSize": -13, "labels": false, "title": null}},
     "color": {"field": "m", "type": "nominal", "legend": null},
     "shape": {"field": "a", "type": "nominal", "legend": {"title": "SNR age (yr)", "legendX": 189, "legendY": 69, "symbolSize": 500, "labelOffset": 6, "columnPadding": 60, "titlePadding": 80, "symbolFillColor": "transparent"}}}},
   {"data": {"name": "notes"}, "transform": [{"filter": "datum.p === 'DDTc'"}],
    "mark": {"type": "text", "align": "left", "baseline": "middle", "font": "Liberation Sans"},
    "encoding": {
     "x": {"field": "E", "type": "quantitative", "axis": {"orient": "top", "values": [6420,6440,6460,6480,6520,6540,6560,6580,6620,6640,6660,6680], "tickSize": -8, "labels": false, "title": null}},
     "y": {"field": "L", "type": "quantitative", "axis": {"orient": "right", "values": [0.6,0.7,0.8,0.9,2,3,4,5,6,7,8,9,20,30,40,50,60,70,80,90,200,300,400,500,600,700,800,900], "tickSize": -8, "labels": false, "title": null}},
     "text": {"field": "t"},
     "size": {"field": "k", "type": "ordinal", "legend": null},
     "color": {"field": "m", "type": "nominal", "legend": null}}}
  ],
  "resolve": {"axis": {"x": "independent", "y": "independent"}}
 }
 ],
 "spacing": 6
},
{
 "title": {"text": "Energy (eV)", "orient": "bottom", "anchor": "middle", "fontSize": 56, "fontWeight": "normal", "font": "Liberation Sans", "color": "#000", "offset": 7, "dx": 32, "frame": "bounds"},
 "hconcat": [
 {
  "width": 582, "height": 486,
  "layer": [
   {"data": {"name": "regions"}, "transform": [{"filter": "datum.p === 'DDTg'"}],
    "mark": {"type": "area", "color": "#fabcfa", "opacity": 1, "clip": true},
    "encoding": {
     "x": {"field": "E", "type": "quantitative", "scale": {"domain": [6380, 6720], "nice": false, "zero": false}, "axis": {"orient": "bottom", "values": [6400, 6500, 6600, 6700], "format": "d", "tickSize": -13, "labelPadding": 31, "title": null, "labelAlign": {"condition": {"test": "datum.value === 6700", "value": "right"}, "value": "center"}, "labelOffset": {"condition": {"test": "datum.value === 6700", "value": 30}, "value": 0}}},
     "y": {"field": "hi", "type": "quantitative", "scale": {"type": "log", "domain": [0.5, 2000], "nice": false}, "axis": {"orient": "left", "values": [1, 10, 100, 1000], "format": "d", "tickSize": -13, "labelAngle": -90, "labelAlign": "center", "labelBaseline": "bottom", "labelPadding": 36, "title": null}},
     "y2": {"field": "lo"}}},
   {"data": {"name": "lines"}, "transform": [{"filter": "datum.p === 'DDTg'"}],
    "mark": {"type": "line", "strokeWidth": 2.3, "clip": true},
    "encoding": {
     "x": {"field": "E", "type": "quantitative", "axis": {"orient": "bottom", "values": [6420,6440,6460,6480,6520,6540,6560,6580,6620,6640,6660,6680], "tickSize": -8, "labels": false, "title": null}},
     "y": {"field": "L", "type": "quantitative", "axis": {"orient": "left", "values": [0.6,0.7,0.8,0.9,2,3,4,5,6,7,8,9,20,30,40,50,60,70,80,90,200,300,400,500,600,700,800,900], "tickSize": -8, "labels": false, "title": null}},
     "color": {"field": "m", "type": "nominal", "legend": null},
     "strokeDash": {"field": "d", "type": "nominal", "legend": {"title": "Ambient density (g cm⁻³)", "legendX": 15, "legendY": 9, "symbolType": "stroke", "symbolSize": 5000, "columnPadding": 32, "titlePadding": 60}},
     "order": {"field": "i", "type": "quantitative"}}},
   {"data": {"name": "lines"}, "transform": [{"filter": "datum.p === 'DDTg' && isValid(datum.a)"}],
    "mark": {"type": "point", "filled": false, "size": 300, "strokeWidth": 2.3, "clip": true},
    "encoding": {
     "x": {"field": "E", "type": "quantitative", "axis": {"orient": "top", "values": [6400, 6500, 6600, 6700], "tickSize": -13, "labels": false, "title": null}},
     "y": {"field": "L", "type": "quantitative", "axis": {"orient": "right", "values": [1, 10, 100, 1000], "tickSize": -13, "labels": false, "title": null}},
     "color": {"field": "m", "type": "nominal", "legend": null},
     "shape": {"field": "a", "type": "nominal", "legend": {"title": "SNR age (yr)", "legendX": 189, "legendY": 69, "symbolSize": 500, "labelOffset": 6, "columnPadding": 60, "titlePadding": 80, "symbolFillColor": "transparent"}}}},
   {"data": {"name": "notes"}, "transform": [{"filter": "datum.p === 'DDTg'"}],
    "mark": {"type": "text", "align": "left", "baseline": "middle", "font": "Liberation Sans"},
    "encoding": {
     "x": {"field": "E", "type": "quantitative", "axis": {"orient": "top", "values": [6420,6440,6460,6480,6520,6540,6560,6580,6620,6640,6660,6680], "tickSize": -8, "labels": false, "title": null}},
     "y": {"field": "L", "type": "quantitative", "axis": {"orient": "right", "values": [0.6,0.7,0.8,0.9,2,3,4,5,6,7,8,9,20,30,40,50,60,70,80,90,200,300,400,500,600,700,800,900], "tickSize": -8, "labels": false, "title": null}},
     "text": {"field": "t"},
     "size": {"field": "k", "type": "ordinal", "legend": null},
     "color": {"field": "m", "type": "nominal", "legend": null}}}
  ],
  "resolve": {"axis": {"x": "independent", "y": "independent"}}
 },
 {
  "width": 583, "height": 486,
  "layer": [
   {"data": {"name": "regions"}, "transform": [{"filter": "datum.p === 'PDD'"}],
    "mark": {"type": "area", "color": "#fcdabd", "opacity": 1, "clip": true},
    "encoding": {
     "x": {"field": "E", "type": "quantitative", "scale": {"domain": [6380, 6720], "nice": false, "zero": false}, "axis": {"orient": "bottom", "values": [6400, 6500, 6600, 6700], "format": "d", "tickSize": -13, "labelPadding": 31, "title": null, "labelAlign": {"condition": {"test": "datum.value === 6400", "value": "left"}, "value": "center"}, "labelOffset": {"condition": {"test": "datum.value === 6400", "value": -32}, "value": 0}}},
     "y": {"field": "hi", "type": "quantitative", "scale": {"type": "log", "domain": [0.5, 2000], "nice": false}, "axis": {"orient": "left", "values": [1, 10, 100, 1000], "tickSize": -13, "labels": false, "title": null}},
     "y2": {"field": "lo"}}},
   {"data": {"name": "lines"}, "transform": [{"filter": "datum.p === 'PDD'"}],
    "mark": {"type": "line", "strokeWidth": 2.3, "clip": true},
    "encoding": {
     "x": {"field": "E", "type": "quantitative", "axis": {"orient": "bottom", "values": [6420,6440,6460,6480,6520,6540,6560,6580,6620,6640,6660,6680], "tickSize": -8, "labels": false, "title": null}},
     "y": {"field": "L", "type": "quantitative", "axis": {"orient": "left", "values": [0.6,0.7,0.8,0.9,2,3,4,5,6,7,8,9,20,30,40,50,60,70,80,90,200,300,400,500,600,700,800,900], "tickSize": -8, "labels": false, "title": null}},
     "color": {"field": "m", "type": "nominal", "legend": null},
     "strokeDash": {"field": "d", "type": "nominal", "legend": {"title": "Ambient density (g cm⁻³)", "legendX": 15, "legendY": 9, "symbolType": "stroke", "symbolSize": 5000, "columnPadding": 32, "titlePadding": 60}},
     "order": {"field": "i", "type": "quantitative"}}},
   {"data": {"name": "lines"}, "transform": [{"filter": "datum.p === 'PDD' && isValid(datum.a)"}],
    "mark": {"type": "point", "filled": false, "size": 300, "strokeWidth": 2.3, "clip": true},
    "encoding": {
     "x": {"field": "E", "type": "quantitative", "axis": {"orient": "top", "values": [6400, 6500, 6600, 6700], "tickSize": -13, "labels": false, "title": null}},
     "y": {"field": "L", "type": "quantitative", "axis": {"orient": "right", "values": [1, 10, 100, 1000], "tickSize": -13, "labels": false, "title": null}},
     "color": {"field": "m", "type": "nominal", "legend": null},
     "shape": {"field": "a", "type": "nominal", "legend": {"title": "SNR age (yr)", "legendX": 189, "legendY": 69, "symbolSize": 500, "labelOffset": 6, "columnPadding": 60, "titlePadding": 80, "symbolFillColor": "transparent"}}}},
   {"data": {"name": "notes"}, "transform": [{"filter": "datum.p === 'PDD'"}],
    "mark": {"type": "text", "align": "left", "baseline": "middle", "font": "Liberation Sans"},
    "encoding": {
     "x": {"field": "E", "type": "quantitative", "axis": {"orient": "top", "values": [6420,6440,6460,6480,6520,6540,6560,6580,6620,6640,6660,6680], "tickSize": -8, "labels": false, "title": null}},
     "y": {"field": "L", "type": "quantitative", "axis": {"orient": "right", "values": [0.6,0.7,0.8,0.9,2,3,4,5,6,7,8,9,20,30,40,50,60,70,80,90,200,300,400,500,600,700,800,900], "tickSize": -8, "labels": false, "title": null}},
     "text": {"field": "t"},
     "size": {"field": "k", "type": "ordinal", "legend": null},
     "color": {"field": "m", "type": "nominal", "legend": null}}}
  ],
  "resolve": {"axis": {"x": "independent", "y": "independent"}}
 }
 ],
 "spacing": 6
}
]
}
]
}
